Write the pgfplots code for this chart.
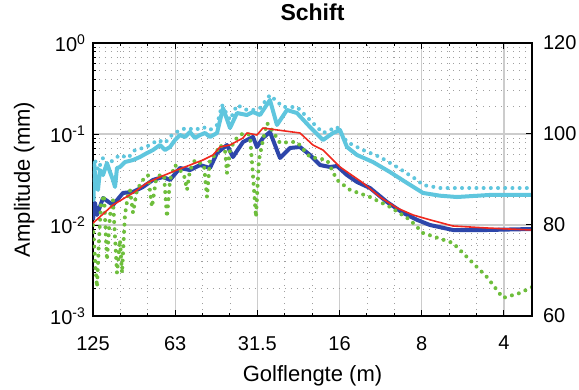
\documentclass[border=0pt]{standalone}
\usepackage{fontspec}
\setmainfont{Liberation Sans}
\usepackage{pgfplots}
\pgfplotsset{compat=1.18}
\definecolor{cy}{RGB}{95,198,222}
\definecolor{bl}{RGB}{45,70,170}
\definecolor{gr}{RGB}{110,190,60}
\definecolor{rd}{RGB}{240,40,30}
\begin{document}
\begin{tikzpicture}
\begin{axis}[
 scale only axis, width=219.5pt, height=136.5pt,
 at={(0,0)}, anchor=south west,
 font=\fontsize{10}{12}\selectfont,
 xmin=0, xmax=5.341, ymode=log, ymin=1e-3, ymax=1,
 xtick={0,1,2,3,4,5}, xticklabels={125,63,31.5,16,8,4},
 minor x tick num=2,
 ytick={1e-3,1e-2,1e-1,1},
 yticklabels={{10\textsuperscript{-3}},{10\textsuperscript{-2}},{10\textsuperscript{-1}},{10\textsuperscript{0}}},
 ytick pos=left, xtick pos=both,
 tick align=inside,
 major tick length=3pt, minor tick length=1.6pt,
 every tick/.style={black, line width=0.5pt},
 grid=both,
 major grid style={gray!40, line width=0.6pt},
 minor grid style={gray!75, dash pattern=on 0.7pt off 2.3pt, line width=0.45pt},
 axis line style={black, line width=0.8pt},
 xticklabel style={yshift=-6.5pt},
 title={Schift},
 title style={at={(axis description cs:0.5,1)}, anchor=base, yshift=5.5pt, font=\bfseries\fontsize{11.5}{13}\selectfont},
 xlabel={Golflengte (m)},
 ylabel={Amplitude (mm)},
 xlabel style={at={(axis description cs:0.5,-0.22)}, anchor=center, font=\fontsize{11}{13}\selectfont},
 ylabel style={at={(axis description cs:-0.157,0.5)}, anchor=center, font=\fontsize{11}{13}\selectfont},
 clip=true,
 every axis plot/.append style={line join=round},
]
% cyan solid
\addplot[cy, line width=2pt] coordinates {
(0,0.0243)(0.006,0.0188)(0.012,0.0480)(0.037,0.0275)(0.061,0.0243)(0.085,0.0402)(0.122,0.0354)(0.170,0.0480)(0.207,0.0382)(0.243,0.0313)(0.268,0.0262)(0.292,0.0423)(0.328,0.0434)(0.389,0.0492)(0.487,0.0518)(0.572,0.0559)(0.657,0.0618)(0.730,0.0667)(0.815,0.0757)(0.876,0.0667)(0.937,0.0720)(0.998,0.0859)(1.058,0.0975)(1.119,0.0927)(1.180,0.1052)(1.241,0.0904)(1.302,0.0975)(1.363,0.1026)(1.423,0.0927)(1.509,0.1026)(1.582,0.193)(1.667,0.1164)(1.752,0.170)(1.873,0.1617)(1.946,0.1745)(2.032,0.1617)(2.153,0.2366)(2.238,0.1256)(2.360,0.1836)(2.482,0.170)(2.640,0.1194)(2.798,0.0859)(2.920,0.1026)(3.005,0.1107)(3.090,0.0720)(3.212,0.0588)(3.406,0.0492)(3.613,0.0382)(3.820,0.0290)(4.015,0.0225)(4.221,0.0210)(4.428,0.0203)(4.830,0.0214)(5.341,0.0214)
};
% cyan dotted
\addplot[cy, line width=2pt, line cap=round, dash pattern=on 0pt off 3.6pt] coordinates {
(0,0.0313)(0.024,0.0518)(0.061,0.0402)(0.122,0.0545)(0.182,0.0456)(0.243,0.0518)(0.328,0.0588)(0.426,0.0545)(0.511,0.0667)(0.608,0.0702)(0.693,0.0757)(0.791,0.0859)(0.876,0.0797)(0.961,0.0975)(1.058,0.1107)(1.144,0.1164)(1.241,0.1107)(1.338,0.1194)(1.423,0.1107)(1.509,0.1256)(1.569,0.2084)(1.667,0.1425)(1.752,0.2084)(1.873,0.1836)(1.946,0.1836)(2.032,0.193)(2.153,0.268)(2.311,0.198)(2.482,0.198)(2.640,0.1425)(2.798,0.1026)(2.968,0.1194)(3.090,0.0817)(3.285,0.0667)(3.491,0.0559)(3.698,0.0434)(3.942,0.0313)(4.015,0.0275)(4.221,0.0255)(5.341,0.0255)
};
% blue solid
\addplot[bl, line width=2pt] coordinates {
(0,0.0114)(0.024,0.0175)(0.049,0.0129)(0.122,0.0198)(0.243,0.0166)(0.365,0.0225)(0.487,0.0231)(0.608,0.0262)(0.730,0.0313)(0.852,0.0337)(0.937,0.0313)(1.058,0.0423)(1.180,0.0402)(1.302,0.0456)(1.423,0.0423)(1.509,0.0618)(1.630,0.0757)(1.703,0.0559)(1.825,0.0817)(1.946,0.0927)(1.995,0.0720)(2.068,0.0904)(2.153,0.1052)(2.275,0.0545)(2.397,0.0702)(2.518,0.0720)(2.640,0.0588)(2.762,0.0456)(2.883,0.0434)(2.968,0.0445)(3.090,0.0354)(3.212,0.0297)(3.370,0.0255)(3.577,0.0179)(3.771,0.0136)(3.942,0.0114)(4.100,0.0100)(4.380,0.00881)(4.793,0.00881)(5.341,0.00904)
};
% green dotted
\addplot[gr, line width=2pt, line cap=round, dash pattern=on 0pt off 3.6pt] coordinates {
(0,0.0100)(0.024,0.00412)(0.049,0.00208)(0.073,0.00684)(0.097,0.0166)(0.134,0.0214)(0.170,0.00412)(0.207,0.0129)(0.243,0.0188)(0.292,0.00297)(0.328,0.00684)(0.353,0.00297)(0.389,0.0129)(0.426,0.0214)(0.450,0.0243)(0.487,0.0136)(0.535,0.0243)(0.608,0.0313)(0.669,0.0354)(0.718,0.0158)(0.766,0.0313)(0.815,0.0354)(0.864,0.0354)(0.900,0.0122)(0.937,0.0313)(0.998,0.0456)(1.058,0.0402)(1.107,0.0354)(1.144,0.0243)(1.180,0.0402)(1.241,0.0518)(1.302,0.0480)(1.350,0.0456)(1.387,0.0203)(1.423,0.0518)(1.484,0.0588)(1.545,0.0757)(1.606,0.0667)(1.630,0.0373)(1.667,0.0667)(1.728,0.0859)(1.788,0.0975)(1.849,0.1026)(1.910,0.0975)(1.946,0.0354)(1.983,0.0122)(2.019,0.0518)(2.068,0.0859)(2.117,0.1321)(2.178,0.1107)(2.275,0.0797)(2.397,0.0817)(2.482,0.0817)(2.640,0.0559)(2.847,0.0518)(2.968,0.0313)(3.127,0.0243)(3.370,0.0203)(3.613,0.0158)(3.856,0.0114)(4.015,0.00817)(4.380,0.00634)(4.586,0.00412)(4.793,0.00268)(4.988,0.00158)(5.195,0.00179)(5.341,0.00208)
};
% red thin
\addplot[rd, line width=0.8pt] coordinates {
(0,0.0105)(0.243,0.0166)(0.487,0.0225)(0.657,0.0290)(0.815,0.0337)(1.022,0.0402)(1.180,0.0456)(1.338,0.0518)(1.460,0.0588)(1.545,0.0720)(1.667,0.0757)(1.825,0.0904)(1.873,0.1026)(1.995,0.0975)(2.068,0.1164)(2.153,0.1135)(2.518,0.1026)(2.676,0.0757)(2.798,0.0667)(3.005,0.0434)(3.285,0.0290)(3.491,0.0203)(3.698,0.0154)(3.893,0.0129)(4.100,0.0114)(4.380,0.00975)(4.793,0.00927)(5.341,0.00881)
};
\end{axis}
\begin{axis}[
 scale only axis, width=219.5pt, height=136.5pt,
 at={(0,0)}, anchor=south west,
 font=\fontsize{10}{12}\selectfont,
 xmin=0, xmax=5.341, ymin=60, ymax=120,
 axis y line*=right, axis x line=none,
 ytick={60,80,100,120}, yticklabels={60,80,100,120},
 tick align=inside, major tick length=3pt,
 every tick/.style={black, line width=0.5pt},
 axis line style={black, line width=0.8pt},
 yticklabel style={xshift=2pt},
]
\addplot[draw=none] coordinates {(0,60)(5,120)};
\end{axis}
\pgfresetboundingbox
\path[use as bounding box] (-46.5pt,-37pt) rectangle (243pt,158pt);
\end{tikzpicture}
\end{document}
